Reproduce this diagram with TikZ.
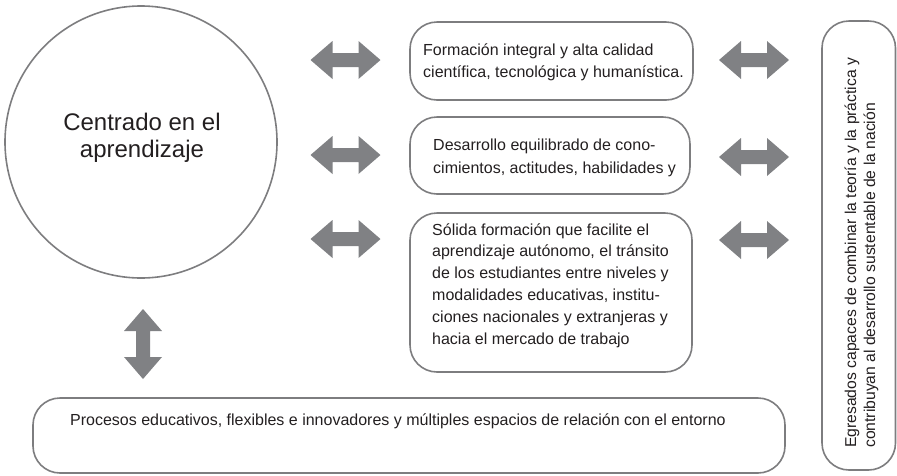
\documentclass[tikz,border=0pt]{standalone}
\usepackage{fontspec}
\setmainfont{Liberation Sans}
\begin{document}
\begin{tikzpicture}[x=1pt,y=-1pt,
  line/.style={draw=linegray, line width=1.6pt},
  rbox/.style={line, rounded corners=27pt, inner sep=0pt},
  txt/.style={text=textdark, inner sep=0pt, align=left, anchor=base west, font=\fontsize{16}{21.8}\selectfont},
  harr/.pic={\fill[arrowgray] (-35,0) -- (-13,-19) -- (-13,-7) -- (13,-7) -- (13,-19) -- (35,0) -- (13,19) -- (13,7) -- (-13,7) -- (-13,19) -- cycle;},
  varr/.pic={\fill[arrowgray] (0,-35) -- (-19,-13) -- (-7,-13) -- (-7,13) -- (-19,13) -- (0,35) -- (19,13) -- (7,13) -- (7,-13) -- (19,-13) -- cycle;}
]
\definecolor{linegray}{HTML}{7D7D7F}
\definecolor{arrowgray}{HTML}{808184}
\definecolor{textdark}{HTML}{231F20}
\useasboundingbox (0,0) rectangle (897,475);
% circle (last-line baselines are given: base anchor = last line)
\node[line, circle, minimum size=272pt, inner sep=0pt] (c) at (141,142) {};
\node[txt, align=center, anchor=base, font=\fontsize{24}{27.5}\selectfont] (ct) at (142,157.5) {Centrado en el\\aprendizaje};
% boxes
\draw[rbox] (410,22) rectangle (693,100);
\node (b1) at (552,61) {};
\node[txt] (t1) at (423,77) {Formación integral y alta calidad\\científica, tecnológica y humanística.};
\draw[rbox] (410,117) rectangle (690,194);
\node (b2) at (550,155) {};
\node[txt, font=\fontsize{16}{22.3}\selectfont] (t2) at (433,173) {Desarrollo equilibrado de cono-\\cimientos, actitudes, habilidades y};
\draw[rbox] (410,213) rectangle (692,372);
\node (b3) at (551,292) {};
\node[txt] (t3) at (432,344) {Sólida formación que facilite el\\aprendizaje autónomo, el tránsito\\de los estudiantes entre niveles y\\modalidades educativas, institu-\\ciones nacionales y extranjeras y\\hacia el mercado de trabajo};
\draw[rbox] (822,21) rectangle (895.5,470);
\node (r) at (858,245) {};
\node[txt, rotate=90, font=\fontsize{15.7}{19}\selectfont] (rt) at (875,448) {Egresados capaces de combinar la teoría y la práctica y\\contribuyan al desarrollo sustentable de la nación};
\draw[rbox] (33,398) rectangle (785,473);
\node (bb) at (409,435) {};
\node[txt] (bt) at (70,425) {Procesos educativos, flexibles e innovadores y múltiples espacios de relación con el entorno};
% arrows
\pic at (345.5,60) {harr};
\pic at (345.5,155) {harr};
\pic at (345.5,239) {harr};
\pic at (754,60) {harr};
\pic at (754,157) {harr};
\pic at (754,240) {harr};
\pic at (143,344) {varr};
\end{tikzpicture}
\end{document}
